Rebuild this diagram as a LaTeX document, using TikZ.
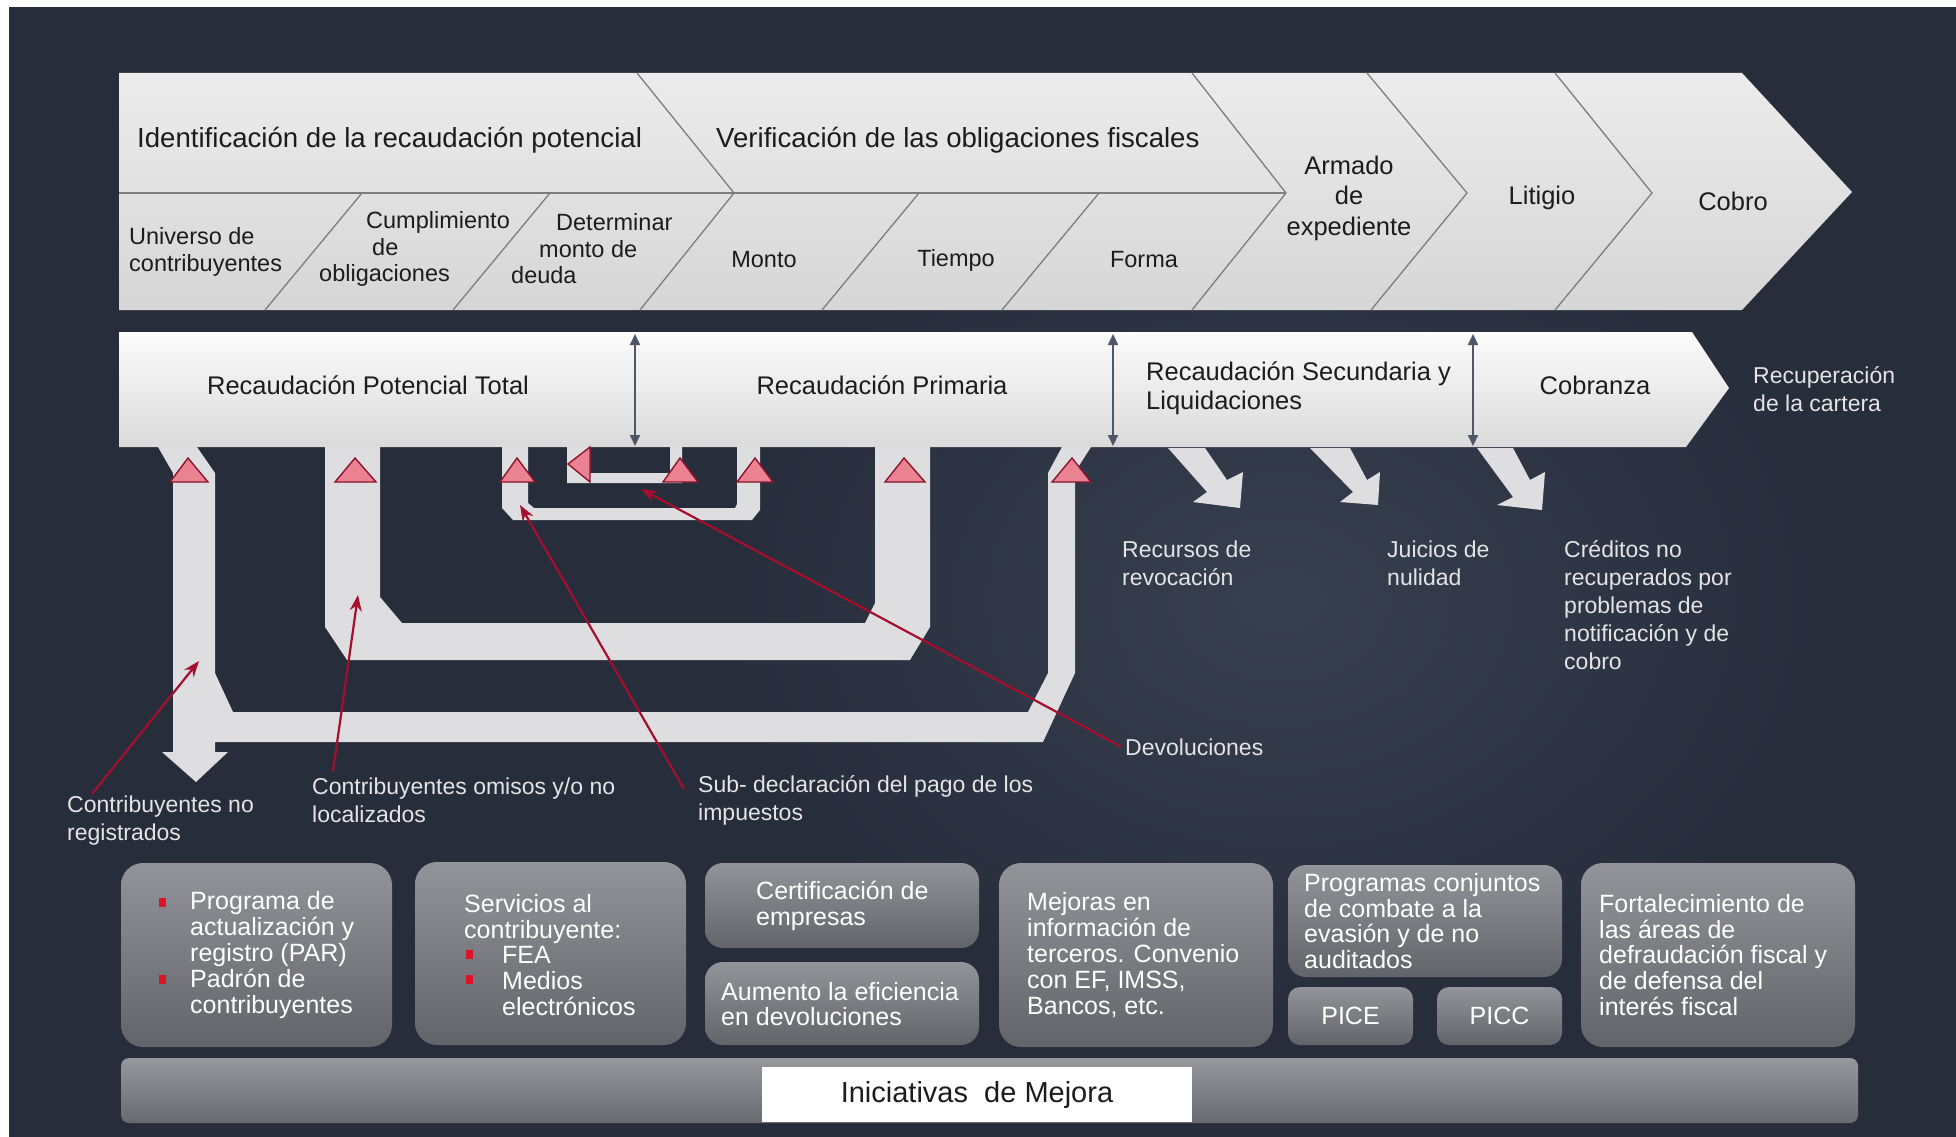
\documentclass[tikz,border=0pt]{standalone}
\usepackage{fontspec}
\setmainfont{Liberation Sans}
\usetikzlibrary{arrows.meta,calc}
\definecolor{bgnavy}{RGB}{39,45,59}
\definecolor{bgglow}{RGB}{56,63,80}
\definecolor{bandtop}{RGB}{236,236,236}
\definecolor{bandbot}{RGB}{214,214,214}
\definecolor{bandln}{RGB}{125,125,125}
\definecolor{midtop}{RGB}{252,252,252}
\definecolor{midbot}{RGB}{218,218,218}
\definecolor{loopfill}{RGB}{222,222,224}
\definecolor{trifill}{RGB}{234,130,145}
\definecolor{triedge}{RGB}{140,20,45}
\definecolor{calred}{RGB}{165,15,45}
\definecolor{dblarrow}{RGB}{78,86,104}
\definecolor{txtdark}{RGB}{28,28,28}
\definecolor{lbltxt}{RGB}{228,228,228}
\definecolor{boxtop}{RGB}{146,148,154}
\definecolor{boxbot}{RGB}{98,100,106}
\definecolor{bartop}{RGB}{150,152,158}
\definecolor{barbot}{RGB}{104,106,112}
\definecolor{bulred}{RGB}{220,20,40}
\newcommand{\fsHead}{\fontsize{27.6}{30}\selectfont}
\newcommand{\fsSub}{\fontsize{23.5}{26.5}\selectfont}
\newcommand{\fsStep}{\fontsize{25.5}{30.5}\selectfont}
\newcommand{\fsMid}{\fontsize{25.5}{29}\selectfont}
\newcommand{\fsLbl}{\fontsize{23}{28}\selectfont}
\newcommand{\fsBox}{\fontsize{25}{25.8}\selectfont}
\newcommand{\fsBar}{\fontsize{29}{32}\selectfont}
\begin{document}
\begin{tikzpicture}[x=1pt,y=-1pt,
  btxt/.style={inner sep=0pt, text=txtdark},
  lbl/.style={inner sep=0pt, text=lbltxt, align=left, font=\fsLbl, anchor=west},
  wtxt/.style={inner sep=0pt, text=white, align=left, font=\fsBox, anchor=west},
  ibox/.style={rounded corners=22pt, top color=boxtop, bottom color=boxbot, inner sep=0pt},
  redtri/.style={fill=trifill, draw=triedge, line width=1.4pt, line join=miter},
  calline/.style={draw=calred, line width=2.2pt, -{Stealth[length=16pt,width=12pt]}},
  dbl/.style={draw=dblarrow, line width=2pt, {Triangle[length=11pt,width=10pt]}-{Triangle[length=11pt,width=10pt]}},
  bline/.style={draw=bandln, line width=1.3pt},
  loopbar/.style={fill=loopfill},
]
\useasboundingbox (0,0) rectangle (1956,1137);
\fill[white] (0,0) rectangle (1956,1137);
\fill[bgnavy] (9,7) rectangle (1956,1137);
\shade[inner color=bgglow, outer color=bgnavy] (1280,600) ellipse (560 and 420);

% ---------- top chevron band ----------
\shade[top color=bandtop, bottom color=bandbot] (119,73) -- (1742,73) -- (1852,192) -- (1742,310) -- (119,310) -- cycle;
\draw[bline] (119,193) -- (1286,193);
\draw[bline] (637,73) -- (734,193) -- (640,310);
\draw[bline] (1192,73) -- (1286,193) -- (1192,310);
\draw[bline] (1367,73) -- (1467,193) -- (1371,310);
\draw[bline] (1555,73) -- (1652,193) -- (1555,310);
\draw[bline] (362,193) -- (265,310);
\draw[bline] (550,193) -- (453,310);
\draw[bline] (919,193) -- (822,310);
\draw[bline] (1099,193) -- (1002,310);

\node[btxt, font=\fsHead, anchor=west] (idn) at (137,140) {Identificación de la recaudación potencial};
\node[btxt, font=\fsHead, anchor=west] (ver) at (716,140) {Verificación de las obligaciones fiscales};
\node[btxt, font=\fsStep, align=center] (arm) at (1349,198) {Armado\\de\\expediente};
\node[btxt, font=\fsStep] (lit) at (1542,198) {Litigio};
\node[btxt, font=\fsStep] (cob) at (1733,201) {Cobro};
\node[btxt, font=\fsSub, align=left, anchor=west] (uni) at (129,252) {Universo de\\contribuyentes};
\node[btxt, font=\fsSub, align=left, anchor=west] (cum) at (319,249) {\hspace*{47pt}Cumplimiento\\\hspace*{53pt}de\\obligaciones};
\node[btxt, font=\fsSub, align=left, anchor=west] (det) at (511,249) {\hspace*{45pt}Determinar\\\hspace*{28pt}monto de\\deuda};
\node[btxt, font=\fsSub] (mon) at (764,260) {Monto};
\node[btxt, font=\fsSub] (tie) at (956,260) {Tiempo};
\node[btxt, font=\fsSub] (frm) at (1144,260) {Forma};

% ---------- loops ----------
\fill[loopbar] (158,447) -- (197,447) -- (215,473) -- (215,673) -- (233,712) -- (1028,712) -- (1048,673) -- (1048,473) -- (1062,447) -- (1091,447) -- (1075,472) -- (1075,673) -- (1043,742) -- (215,742) -- (215,752) -- (228,752) -- (196,782) -- (162,752) -- (173,752) -- (173,473) -- cycle;
\fill[loopbar] (325,447) -- (380,447) -- (380,597) -- (402,623) -- (865,623) -- (875,603) -- (875,447) -- (930,447) -- (930,627) -- (910,660) -- (347,660) -- (325,627) -- cycle;
\fill[loopbar] (502,447) -- (528,447) -- (528,503) -- (534,508) -- (735,508) -- (737,504) -- (737,447) -- (760,447) -- (760,510) -- (752,520) -- (513,520) -- (502,508) -- cycle;
\fill[loopbar] (567,447) -- (590,447) -- (590,473) -- (670,473) -- (670,447) -- (682,447) -- (682,483) -- (567,483) -- cycle;

% ---------- middle band ----------
\shade[top color=midtop, bottom color=midbot] (119,332) -- (1692,332) -- (1729,388) -- (1686,447) -- (119,447) -- cycle;
\node[btxt, font=\fsMid] (rpt) at (368,385) {Recaudación Potencial Total};
\node[btxt, font=\fsMid] (rpr) at (882,385) {Recaudación Primaria};
\node[btxt, font=\fsMid, align=left, anchor=west] (rsl) at (1146,388) {Recaudación Secundaria y\\Liquidaciones};
\node[btxt, font=\fsMid] (cbz) at (1595,385) {Cobranza};
\node[lbl] (rec) at (1753,389) {Recuperación\\de la cartera};

\coordinate (d1t) at (635,334); \coordinate (d1b) at (635,446);
\coordinate (d2t) at (1113,334); \coordinate (d2b) at (1113,446);
\coordinate (d3t) at (1473,334); \coordinate (d3b) at (1473,446);
\draw[dbl] (d1t) -- (d1b);
\draw[dbl] (d2t) -- (d2b);
\draw[dbl] (d3t) -- (d3b);

% ---------- red triangles ----------
\filldraw[redtri] (170,482) -- (188,458) -- (208,482) -- cycle;
\filldraw[redtri] (335,482) -- (355,458) -- (376,482) -- cycle;
\filldraw[redtri] (500,482) -- (517,458) -- (535,482) -- cycle;
\filldraw[redtri] (663,482) -- (680,458) -- (698,482) -- cycle;
\filldraw[redtri] (737,482) -- (755,458) -- (773,482) -- cycle;
\filldraw[redtri] (885,482) -- (904,458) -- (925,482) -- cycle;
\filldraw[redtri] (1052,482) -- (1072,458) -- (1091,482) -- cycle;
\filldraw[redtri] (590,447) -- (568,464) -- (590,482) -- cycle;

% ---------- down-right arrows ----------
\fill[loopbar] (1168,448) -- (1205,448) -- (1227,480) -- (1243,472) -- (1240,508) -- (1193,502) -- (1207,492) -- cycle;
\fill[loopbar] (1310,448) -- (1350,448) -- (1367,480) -- (1380,472) -- (1378,505) -- (1340,502) -- (1353,492) -- cycle;
\fill[loopbar] (1477,448) -- (1513,448) -- (1530,480) -- (1545,472) -- (1542,510) -- (1497,505) -- (1513,497) -- cycle;

% ---------- labels ----------
\node[lbl] (rev) at (1122,563) {Recursos de\\revocación};
\node[lbl] (jui) at (1387,563) {Juicios de\\nulidad};
\node[lbl] (cre) at (1564,605) {Créditos no\\recuperados por\\problemas de\\notificación y de\\cobro};
\node[lbl] (dev) at (1125,747) {Devoluciones};
\node[lbl] (cnr) at (67,821) {Contribuyentes no\\registrados};
\node[lbl] (com) at (312,800) {Contribuyentes omisos y/o no\\localizados};
\node[lbl] (sub) at (698,800) {Sub- declaración del pago de los\\impuestos};

% ---------- callouts ----------
\coordinate (tipA) at (199,661);
\coordinate (tipB) at (358,595);
\coordinate (tipC) at (520,505);
\coordinate (tipD) at (641,489);
\draw[calline] ([xshift=25pt,yshift=2pt]cnr.north west) -- (tipA);
\draw[calline] ([xshift=21pt,yshift=6pt]com.north west) -- (tipB);
\draw[calline] ([xshift=-14pt,yshift=-14pt]sub.north west) -- (tipC);
\draw[calline] ([xshift=-3pt]dev.west) -- (tipD);

% ---------- bottom boxes ----------
\node[ibox, minimum width=271pt, minimum height=184pt] (b1) at (256.5,955) {};
\node[ibox, minimum width=271pt, minimum height=183pt] (b2) at (550.5,953.5) {};
\node[ibox, rounded corners=18pt, minimum width=274pt, minimum height=85pt] (b3a) at (842,905.5) {};
\node[ibox, rounded corners=18pt, minimum width=274pt, minimum height=83pt] (b3b) at (842,1003.5) {};
\node[ibox, minimum width=274pt, minimum height=184pt] (b4) at (1136,955) {};
\node[ibox, rounded corners=18pt, minimum width=274pt, minimum height=112pt] (b5a) at (1425,921) {};
\node[ibox, rounded corners=12pt, minimum width=125pt, minimum height=58pt, text=white, font=\fsBox] (pice) at (1350.5,1016) {PICE};
\node[ibox, rounded corners=12pt, minimum width=125pt, minimum height=58pt, text=white, font=\fsBox] (picc) at (1499.5,1016) {PICC};
\node[ibox, minimum width=274pt, minimum height=184pt] (b6) at (1718,955) {};

\fill[bulred] (159,898) rectangle (166,907);
\fill[bulred] (159,975) rectangle (166,984);
\fill[bulred] (466,950) rectangle (473,959);
\fill[bulred] (466,975) rectangle (473,984);

\node[wtxt] (t1) at (190,955) {Programa de\\actualización y\\registro (PAR)\\Padrón de\\contribuyentes};
\node[wtxt] (t2) at (464,955) {Servicios al\\contribuyente:\\\hspace*{38pt}FEA\\\hspace*{38pt}Medios\\\hspace*{38pt}electrónicos};
\node[wtxt] (t3a) at (756,906) {Certificación de\\empresas};
\node[wtxt] (t3b) at (721,1004) {Aumento la eficiencia\\en devoluciones};
\node[wtxt] (t4) at (1027,955) {Mejoras en\\información de\\terceros. Convenio\\con EF, IMSS,\\Bancos, etc.};
\node[wtxt] (t5a) at (1304,921) {Programas conjuntos\\de combate a la\\evasión y de no\\auditados};
\node[wtxt] (t6) at (1599,955) {Fortalecimiento de\\las áreas de\\defraudación fiscal y\\de defensa del\\interés fiscal};

% ---------- bottom bar ----------
\node[inner sep=0pt, rounded corners=8pt, top color=bartop, bottom color=barbot, minimum width=1737pt, minimum height=65pt] (bar) at (989.5,1090.5) {};
\node[fill=white, inner sep=0pt, minimum width=430pt, minimum height=55pt, font=\fsBar, text=txtdark] (ini) at (977,1094.5) {Iniciativas\ \ de Mejora};
\end{tikzpicture}
\end{document}
